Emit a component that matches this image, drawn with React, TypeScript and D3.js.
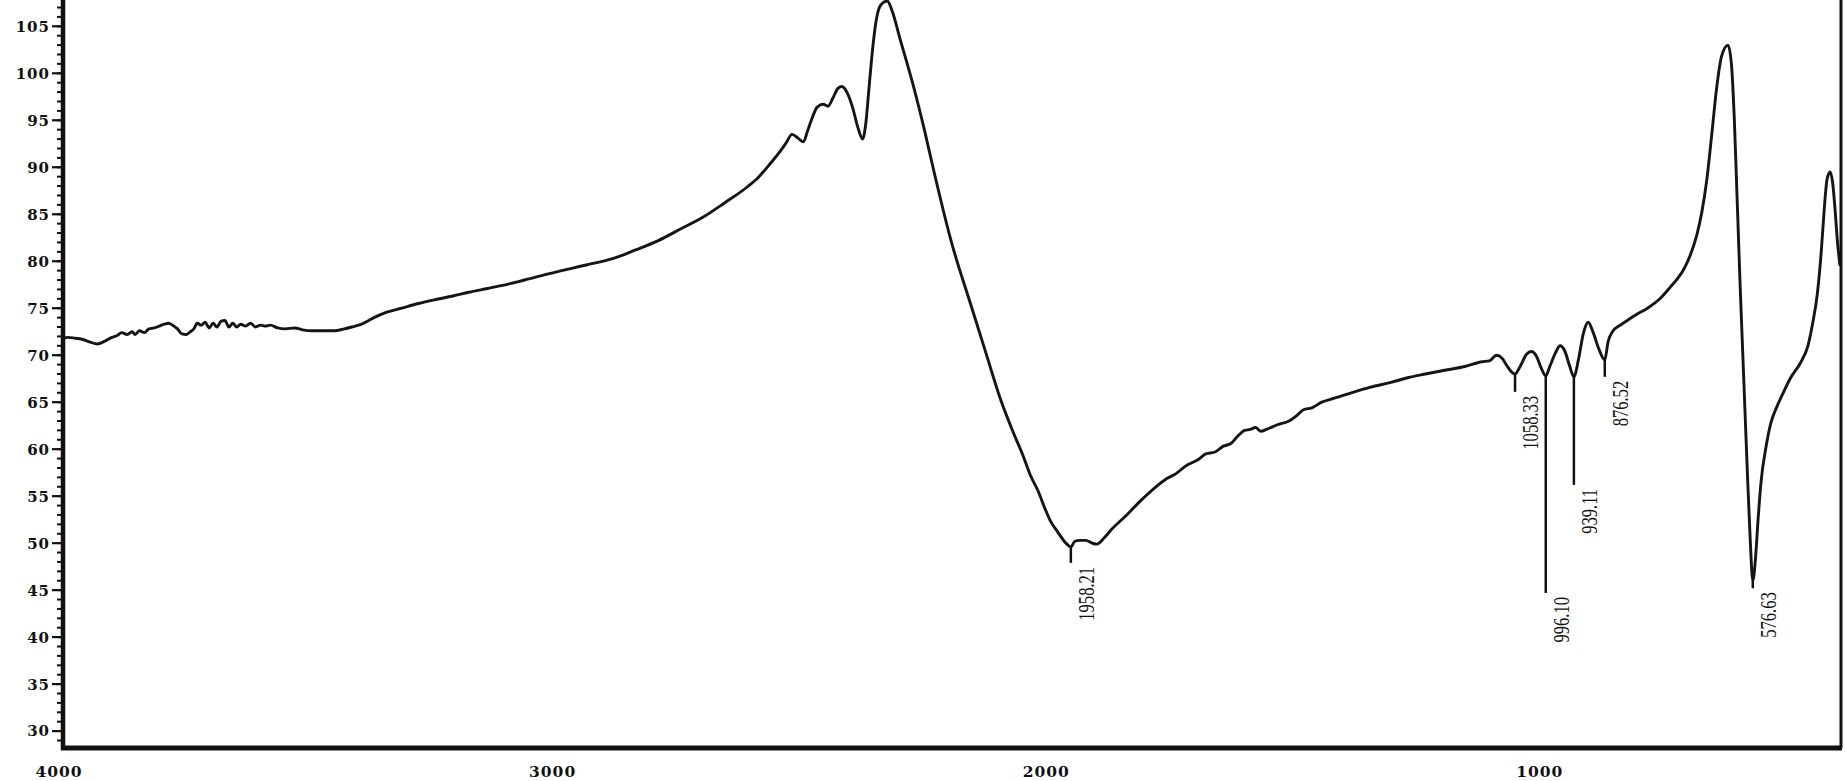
import React from "react";
import * as d3 from "d3";

// Wavenumber (cm-1) and transmittance (%)
const wavenumbers = [
  4000, 3990, 3975, 3962, 3945, 3931, 3915, 3901, 3890, 3881, 3870, 3860, 3854, 3845, 3835, 3826,
  3815, 3805, 3795, 3786, 3778, 3768, 3760, 3750, 3742, 3735, 3728, 3720, 3712, 3704, 3696, 3688,
  3680, 3672, 3664, 3656, 3648, 3640, 3630, 3620, 3610, 3600, 3590, 3580, 3565, 3550, 3530, 3515,
  3495, 3470, 3450, 3430, 3415, 3395, 3370, 3348, 3314, 3280, 3247, 3210, 3178, 3140, 3112, 3065,
  2990, 2940, 2885, 2840, 2794, 2750, 2703, 2660, 2614, 2590, 2567, 2550, 2535, 2523, 2511, 2500,
  2492, 2484, 2472, 2460, 2450, 2440, 2430, 2422, 2412, 2400, 2390, 2380, 2374, 2367, 2360, 2352,
  2343, 2330, 2320, 2305, 2279, 2255, 2234, 2200, 2161, 2130, 2100, 2075, 2055, 2040, 2025, 2010,
  2000, 1985, 1970, 1958.21, 1950, 1940, 1928, 1915, 1906, 1890, 1875, 1845, 1815, 1790, 1763, 1745,
  1726, 1700, 1685, 1666, 1650, 1634, 1620, 1606, 1595, 1584, 1573, 1562, 1540, 1516, 1500, 1487,
  1470, 1450, 1426, 1390, 1351, 1310, 1276, 1240, 1201, 1160, 1126, 1110, 1096, 1085, 1075, 1065,
  1058.33, 1048, 1035, 1025, 1015, 1005, 996.1, 988, 976, 967, 958, 948, 939.11, 930, 920, 910,
  900, 888, 876.52, 870, 861, 845, 831, 810, 790, 765, 743, 730, 717, 703, 690, 680,
  670, 660, 650, 640, 627, 620, 614, 608, 602, 595, 588, 582, 576.63, 571, 566, 560,
  550, 540, 528, 515, 500, 480, 465, 455, 446, 438, 432, 426, 420, 415, 410, 405, 400,
];
const transmittance = [
  71.8, 71.9, 71.8, 71.7, 71.4, 71.2, 71.5, 71.9, 72.1, 72.4, 72.2, 72.5, 72.2, 72.6, 72.4, 72.8,
  72.9, 73.1, 73.3, 73.4, 73.2, 72.8, 72.3, 72.2, 72.5, 72.8, 73.4, 73.2, 73.5, 72.9, 73.4, 73.0,
  73.6, 73.7, 73.0, 73.4, 73.0, 73.3, 73.1, 73.4, 73.0, 73.2, 73.1, 73.2, 72.9, 72.8, 72.9, 72.7,
  72.6, 72.6, 72.6, 72.8, 73.0, 73.3, 74.0, 74.5, 75.0, 75.5, 75.9, 76.3, 76.7, 77.1, 77.4, 78.0,
  79.0, 79.6, 80.3, 81.2, 82.2, 83.4, 84.7, 86.2, 87.9, 89.0, 90.4, 91.5, 92.6, 93.5, 93.1, 92.7,
  93.8, 95.0, 96.4, 96.7, 96.5, 97.4, 98.4, 98.6, 98.0, 96.3, 94.3, 93.0, 94.5, 98.5, 102.5, 105.8,
  107.3, 107.7, 106.6, 103.8, 99.0, 94.0, 89.2, 82.0, 75.4, 70.2, 65.2, 61.8, 59.3, 57.2, 55.6, 53.6,
  52.4, 51.2, 50.1, 49.6, 50.2, 50.3, 50.3, 50.0, 49.9, 50.6, 51.5, 53.0, 54.6, 55.8, 56.9, 57.4,
  58.2, 58.9, 59.5, 59.7, 60.3, 60.6, 61.4, 62.0, 62.1, 62.3, 61.9, 62.1, 62.6, 63.0, 63.6, 64.2,
  64.4, 65.0, 65.4, 66.0, 66.6, 67.1, 67.6, 68.0, 68.4, 68.8, 69.3, 69.4, 70.0, 69.7, 68.9, 68.2,
  68.0, 68.8, 70.1, 70.4, 69.9, 68.6, 67.8, 68.8, 70.3, 71.0, 70.5, 68.9, 67.7, 69.5, 72.3, 73.5,
  72.4, 70.6, 69.5, 71.4, 72.5, 73.2, 73.7, 74.4, 75.0, 76.0, 77.3, 78.1, 79.1, 80.7, 82.8, 85.2,
  88.6, 93.4, 98.4, 101.8, 103.0, 101.0, 95.0, 86.0, 77.0, 67.5, 58.0, 50.5, 46.0, 48.5, 52.5, 56.5,
  60.2, 62.8, 64.5, 66.0, 67.6, 69.2, 71.0, 73.5, 76.5, 81.0, 85.5, 88.8, 89.5, 88.4, 85.5, 82.0, 79.5,
];

// Peak annotations
const peakWavenumbers = [1958.21, 1058.33, 996.1, 939.11, 876.52, 576.63];
const peakLabels = ["1958.21", "1058.33", "996.10", "939.11", "876.52", "576.63"];
const peakTransmittance = [49.6, 68.0, 67.8, 67.7, 69.5, 46.0];
const peakLineEnd = [47.9, 66.1, 44.7, 56.2, 67.7, 45.2];

// Axis ticks
const xTickValues = [4000, 3000, 2000, 1000];
const yTickValues = [30, 35, 40, 45, 50, 55, 60, 65, 70, 75, 80, 85, 90, 95, 100, 105];

const W = 1845;
const H = 781;
const left = 63;
const right = 1840;
const bottom = 748;

export default function App() {
  const x = d3.scaleLinear().domain([4000, 400]).range([left, right]);
  const y = d3.scaleLinear().domain([28.2, 107.8]).range([bottom, 0]);

  const pts = wavenumbers.map((w, i) => [w, transmittance[i]] as [number, number]);
  const line = d3
    .line<[number, number]>()
    .x((d) => x(d[0]))
    .y((d) => y(d[1]))
    .curve(d3.curveMonotoneX);

  const minorTicks = d3.range(29, 108, 1);

  const axisFont = "'DejaVu Serif', serif";

  return (
    <svg
      width={W}
      height={H}
      viewBox={`0 0 ${W} ${H}`}
      style={{ position: "absolute", left: 0, top: 0, background: "#fff" }}
    >
      <rect x={0} y={0} width={W} height={H} fill="#fff" />
      <defs>
        <clipPath id="plotClip">
          <rect x={left} y={0} width={right - left} height={bottom} />
        </clipPath>
      </defs>

      {/* spectrum */}
      <path
        d={line(pts) || ""}
        fill="none"
        stroke="#151515"
        strokeWidth={2.9}
        strokeLinejoin="round"
        clipPath="url(#plotClip)"
      />

      {/* peak markers */}
      {peakWavenumbers.map((w, i) => {
        const px = x(w);
        const y0 = y(peakTransmittance[i]);
        const y1 = y(peakLineEnd[i]);
        return (
          <g key={peakLabels[i]}>
            <line x1={px} x2={px} y1={y0} y2={y1} stroke="#111" strokeWidth={2.5} />
            <text
              transform={`translate(${px + 23},${y1 + 4}) rotate(-90) scale(0.72,1)`}
              textAnchor="end"
              fontFamily="'Liberation Serif', serif"
              fontSize={23}
              fill="#111"
            >
              {peakLabels[i]}
            </text>
          </g>
        );
      })}

      {/* y axis */}
      {minorTicks.map((t) => (
        <line
          key={"m" + t}
          x1={left - 6}
          x2={left}
          y1={y(t)}
          y2={y(t)}
          stroke="#111"
          strokeWidth={2}
        />
      ))}
      {yTickValues.map((t) => (
        <g key={"y" + t}>
          <line x1={left - 11} x2={left} y1={y(t)} y2={y(t)} stroke="#111" strokeWidth={2.2} />
          <text
            x={50}
            y={y(t)}
            dy="0.36em"
            textAnchor="end"
            fontFamily={axisFont}
            fontWeight="bold"
            fontSize={15}
            letterSpacing={1}
            fill="#111"
          >
            {t}
          </text>
        </g>
      ))}
      <line x1={left} x2={left} y1={0} y2={bottom + 2} stroke="#111" strokeWidth={4.5} />

      {/* x axis */}
      <line x1={left - 2} x2={right + 2} y1={bottom} y2={bottom} stroke="#111" strokeWidth={5} />
      {xTickValues.map((t) => (
        <text
          key={"x" + t}
          x={x(t) - 4}
          y={777}
          textAnchor="middle"
          fontFamily={axisFont}
          fontWeight="bold"
          fontSize={15.5}
          letterSpacing={1}
          fill="#111"
        >
          {t}
        </text>
      ))}

      {/* right border */}
      <line x1={right + 1} x2={right + 1} y1={0} y2={bottom} stroke="#111" strokeWidth={3} />
    </svg>
  );
}
